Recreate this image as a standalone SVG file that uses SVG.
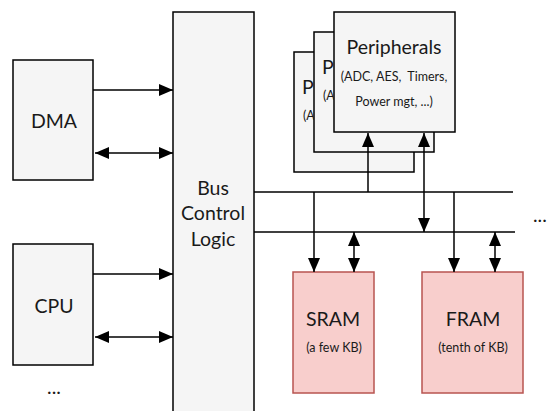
<svg xmlns="http://www.w3.org/2000/svg" width="548" height="411" viewBox="0 0 548 411">
<style>
.box{fill:#f5f5f5;stroke:#000;stroke-width:1.5}
.mem{fill:#f8cecc;stroke:#b85450;stroke-width:1.5}
.ln{fill:none;stroke:#000;stroke-width:1.5}
text{font-family:Lato,"Open Sans","DejaVu Sans",sans-serif;fill:#1a1a1a;text-anchor:middle;dominant-baseline:central;white-space:pre}
.big{font-size:19.5px}
.sm{font-size:12.5px}
.st{text-anchor:start}
</style>
<defs>
<marker id="ah" viewBox="0 0 14 12" refX="14" refY="6" markerWidth="14" markerHeight="12" markerUnits="userSpaceOnUse" orient="auto-start-reverse">
<path d="M0,0 L14,6 L0,12 z" fill="#000"/>
</marker>
<clipPath id="c3"><rect x="294" y="52" width="19.5" height="100"/></clipPath>
<clipPath id="c2"><rect x="314" y="32" width="19.5" height="100"/></clipPath>
</defs>
<g id="dma"><rect class="box" x="13" y="60" width="80" height="120"/><text class="big" x="54" y="120">DMA</text></g>
<g id="cpu"><rect class="box" x="13" y="244" width="80" height="121"/><text class="big" x="54" y="305">CPU</text></g>
<g id="more-left"><text class="big" x="54" y="386">...</text></g>
<g id="bus"><rect class="box" x="173" y="12" width="81" height="410"/>
<text class="big" x="213" y="187">Bus</text><text class="big" x="213" y="212">Control</text><text class="big" x="213" y="238">Logic</text></g>
<g id="periph3"><rect class="box" x="294" y="52" width="120" height="120"/>
<g clip-path="url(#c3)"><text class="big st" x="302" y="86">P</text><text class="sm st" x="303" y="115">(A</text></g></g>
<g id="periph2"><rect class="box" x="314" y="32" width="120" height="120"/>
<g clip-path="url(#c2)"><text class="big st" x="322" y="66">P</text><text class="sm st" x="323" y="95">(A</text></g></g>
<g id="periph1"><rect class="box" x="334" y="12" width="121" height="120"/>
<text class="big" x="394" y="46">Peripherals</text><text class="sm" x="394" y="76">(ADC, AES,  Timers,</text><text class="sm" x="394" y="101">Power mgt, ...)</text></g>
<g id="sram"><rect class="mem" x="293" y="272" width="81" height="121"/><text class="big" x="333" y="318">SRAM</text><text class="sm" x="334" y="347">(a few KB)</text></g>
<g id="fram"><rect class="mem" x="422" y="272" width="101" height="121"/><text class="big" x="473" y="318">FRAM</text><text class="sm" x="473" y="347">(tenth of KB)</text></g>
<g id="more-right"><text class="big st" x="533" y="214">...</text></g>
<g id="connectors">
<line class="ln" x1="93" y1="90" x2="173" y2="90" marker-end="url(#ah)"/>
<line class="ln" x1="95" y1="153" x2="173" y2="153" marker-start="url(#ah)" marker-end="url(#ah)"/>
<line class="ln" x1="93" y1="274" x2="173" y2="274" marker-end="url(#ah)"/>
<line class="ln" x1="95" y1="337" x2="173" y2="337" marker-start="url(#ah)" marker-end="url(#ah)"/>
<line class="ln" x1="254" y1="192" x2="513" y2="192"/>
<line class="ln" x1="254" y1="232" x2="515" y2="232"/>
<line class="ln" x1="368" y1="192" x2="368" y2="133" marker-end="url(#ah)"/>
<line class="ln" x1="424" y1="232" x2="424" y2="133" marker-start="url(#ah)" marker-end="url(#ah)"/>
<line class="ln" x1="314" y1="192" x2="314" y2="272" marker-end="url(#ah)"/>
<line class="ln" x1="354" y1="232" x2="354" y2="272" marker-start="url(#ah)" marker-end="url(#ah)"/>
<line class="ln" x1="454" y1="192" x2="454" y2="272" marker-end="url(#ah)"/>
<line class="ln" x1="495" y1="232" x2="495" y2="272" marker-start="url(#ah)" marker-end="url(#ah)"/>
</g>
</svg>
